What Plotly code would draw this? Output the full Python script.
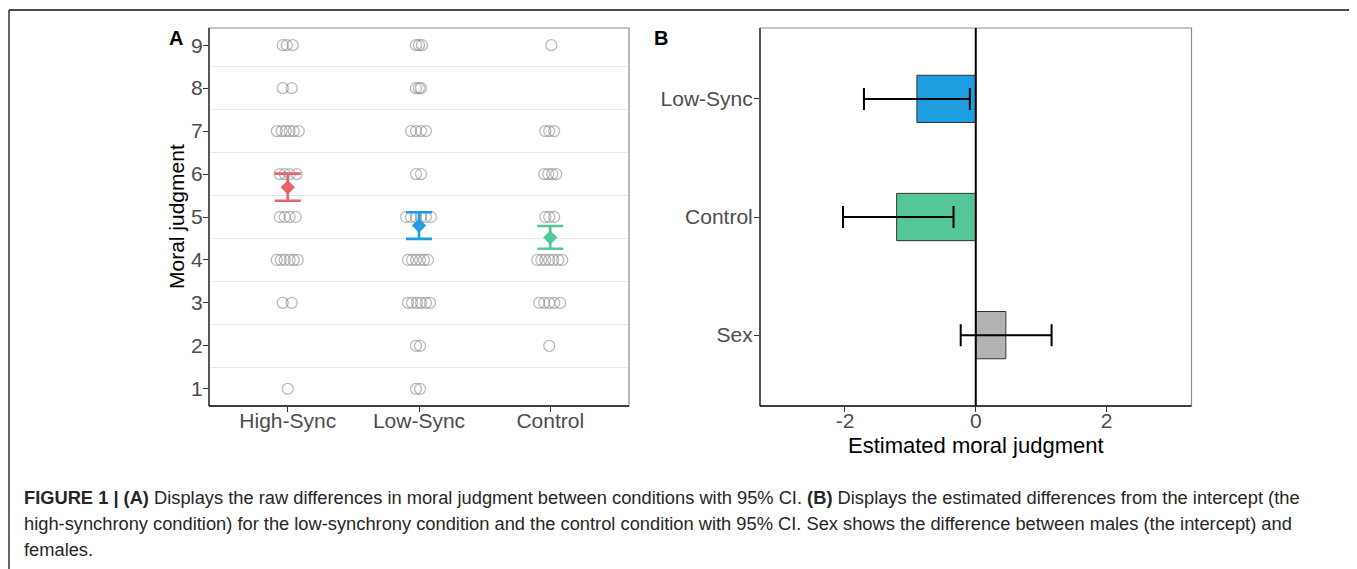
import plotly.graph_objects as go

# page body has an 8px default margin: the figure is sized to fill the rest of the 1357x569 window
PAGE_W, PAGE_H, OFF = 1357, 569, 8
W, H = PAGE_W - OFF, PAGE_H - OFF

# ---------------- DATA ----------------
groups = ["High-Sync", "Low-Sync", "Control"]

# Panel A raw responses (value) with horizontal jitter offsets (category units)
high_sync_values = [9, 9, 9, 8, 8, 7, 7, 7, 7, 7, 7, 6, 6, 6, 6, 5, 5, 5, 5, 4, 4, 4, 4, 4, 4, 3, 3, 1]
high_sync_jitter = [-0.038, -0.008, 0.038, -0.038, 0.030,
                    -0.084, -0.046, -0.015, 0.015, 0.046, 0.084,
                    -0.061, -0.023, 0.015, 0.068,
                    -0.061, -0.023, 0.015, 0.061,
                    -0.084, -0.053, -0.023, 0.015, 0.046, 0.076,
                    -0.038, 0.030, 0.0]

low_sync_values = [9, 9, 9, 8, 8, 8, 7, 7, 7, 7, 6, 6, 5, 5, 5, 5, 5, 5, 4, 4, 4, 4, 4, 4, 3, 3, 3, 3, 3, 3, 2, 2, 1, 1]
low_sync_jitter = [-0.023, 0.0, 0.023, -0.023, 0.0, 0.015,
                   -0.061, -0.023, 0.015, 0.053,
                   -0.023, 0.015,
                   -0.099, -0.061, -0.023, 0.015, 0.053, 0.091,
                   -0.084, -0.053, -0.023, 0.008, 0.038, 0.068,
                   -0.084, -0.053, -0.015, 0.015, 0.053, 0.084,
                   -0.023, 0.008, -0.023, 0.008]

control_values = [9, 7, 7, 7, 6, 6, 6, 6, 5, 5, 5, 4, 4, 4, 4, 4, 4, 4, 3, 3, 3, 3, 3, 2]
control_jitter = [0.008, -0.038, -0.008, 0.030,
                  -0.046, -0.015, 0.015, 0.046,
                  -0.038, -0.008, 0.030,
                  -0.099, -0.068, -0.038, -0.008, 0.023, 0.061, 0.091,
                  -0.084, -0.046, -0.008, 0.030, 0.076,
                  -0.008]

# Panel A means with 95% CI
group_means = [5.69, 4.80, 4.52]
group_ci_low = [5.38, 4.49, 4.26]
group_ci_high = [6.01, 5.11, 4.79]
group_colors = ["#E7636B", "#1D9EE0", "#55C697"]

y_ticks_a = [1, 2, 3, 4, 5, 6, 7, 8, 9]

# Panel B model estimates
terms = ["Low-Sync", "Control", "Sex"]
estimates = [-0.90, -1.21, 0.46]
est_ci_low = [-1.71, -2.03, -0.23]
est_ci_high = [-0.09, -0.34, 1.16]
term_colors = ["#1D9EE0", "#55C697", "#B3B3B3"]
x_ticks_b = [-2, 0, 2]
x_ticks_b_text = ["-2", "0", "2"]

caption_lines = [
    "<b>FIGURE 1 | (A)</b> Displays the raw differences in moral judgment between conditions with 95% CI. "
    "<b>(B)</b> Displays the estimated differences from the intercept (the",
    "high-synchrony condition) for the low-synchrony condition and the control condition with 95% CI. "
    "Sex shows the difference between males (the intercept) and",
    "females.",
]

# ---------------- FIGURE ----------------
FONT = "Liberation Sans, Arial, sans-serif"
TICK_COL = "#4D4D4D"


def px(xp):
    return (xp - OFF) / W


def py(yp):
    return 1 - (yp - OFF) / H


fig = go.Figure()

raw = [(high_sync_values, high_sync_jitter), (low_sync_values, low_sync_jitter),
       (control_values, control_jitter)]
for gi, (vals, jit) in enumerate(raw):
    fig.add_trace(go.Scatter(
        x=[gi + 1 + j for j in jit], y=vals, mode="markers",
        marker=dict(symbol="circle-open", size=11, color="rgba(120,120,120,0.5)",
                    line=dict(width=1.3, color="rgba(120,120,120,0.5)")),
        xaxis="x", yaxis="y", showlegend=False, hoverinfo="skip"))

for gi in range(len(groups)):
    fig.add_trace(go.Scatter(
        x=[gi + 1], y=[group_means[gi]], mode="markers",
        marker=dict(symbol="diamond", size=11, color=group_colors[gi]),
        error_y=dict(type="data", symmetric=False,
                     array=[group_ci_high[gi] - group_means[gi]],
                     arrayminus=[group_means[gi] - group_ci_low[gi]],
                     color=group_colors[gi], thickness=2.6, width=13),
        xaxis="x", yaxis="y", showlegend=False))

ypos_b = [3, 2, 1]
fig.add_trace(go.Bar(
    x=estimates, y=ypos_b, orientation="h", width=0.4,
    marker=dict(color=term_colors, line=dict(color="#333333", width=1)),
    error_x=dict(type="data", symmetric=False,
                 array=[h - e for h, e in zip(est_ci_high, estimates)],
                 arrayminus=[e - l for e, l in zip(estimates, est_ci_low)],
                 color="black", thickness=2, width=11),
    xaxis="x2", yaxis="y2", showlegend=False))

ax_a_x = [px(209), px(629)]
ax_b_x = [px(760), px(1191.5)]
ax_y = [py(406), py(28)]

common_tick = dict(ticks="outside", ticklen=5, tickwidth=1, tickcolor="#333333",
                   tickfont=dict(family=FONT, size=21, color=TICK_COL),
                   showgrid=False, zeroline=False, showline=False)

fig.update_layout(
    width=W, height=H, autosize=False,
    margin=dict(l=0, r=0, t=0, b=0),
    paper_bgcolor="white", plot_bgcolor="white",
    font=dict(family=FONT),
    xaxis=dict(domain=ax_a_x, range=[0.4, 3.6], tickvals=[1, 2, 3], ticktext=groups,
               anchor="y", ticklabelstandoff=-9, **common_tick),
    yaxis=dict(domain=ax_y, range=[0.6, 9.4], tickvals=y_ticks_a, anchor="x",
               minor=dict(tick0=0.5, dtick=1, showgrid=True, gridcolor="#E8E8E8",
                          gridwidth=1, ticks=""),
               ticklabelstandoff=-4, **common_tick),
    xaxis2=dict(domain=ax_b_x, range=[-3.3, 3.3], tickvals=x_ticks_b, ticktext=x_ticks_b_text,
                anchor="y2", ticklabelstandoff=-9, **common_tick),
    yaxis2=dict(domain=ax_y, range=[0.4, 3.6], tickvals=ypos_b, ticktext=terms,
                anchor="x2", ticklabelstandoff=-3, **common_tick),
)

shapes = []
# outer figure frame
shapes.append(dict(type="line", xref="paper", yref="paper", x0=px(9), x1=px(1355), y0=py(10), y1=py(10),
                   line=dict(color="#111111", width=1.5)))
shapes.append(dict(type="line", xref="paper", yref="paper", x0=px(9), x1=px(9), y0=py(10), y1=0,
                   line=dict(color="#333333", width=1.5)))
shapes.append(dict(type="line", xref="paper", yref="paper", x0=px(1355), x1=px(1355), y0=py(10), y1=0,
                   line=dict(color="#8A8A8A", width=1.2)))

for dom in (ax_a_x, ax_b_x):
    shapes.append(dict(type="rect", xref="paper", yref="paper", x0=dom[0], x1=dom[1], y0=ax_y[0], y1=ax_y[1],
                       line=dict(color="#8C8C8C", width=1.2), layer="above"))
    shapes.append(dict(type="line", xref="paper", yref="paper", x0=dom[0], x1=dom[0], y0=ax_y[0], y1=ax_y[1],
                       line=dict(color="#222222", width=1.3), layer="above"))
    shapes.append(dict(type="line", xref="paper", yref="paper", x0=dom[0], x1=dom[1], y0=ax_y[0], y1=ax_y[0],
                       line=dict(color="#111111", width=1.3), layer="above"))

# vertical zero reference line in panel B
shapes.append(dict(type="line", xref="x2", yref="paper", x0=0, x1=0, y0=ax_y[0], y1=ax_y[1],
                   line=dict(color="black", width=2), layer="above"))
fig.update_layout(shapes=shapes)

ann = []
ann.append(dict(text="<b>A</b>", x=px(176), y=py(38), xref="paper", yref="paper", showarrow=False,
                xanchor="center", yanchor="middle",
                font=dict(family=FONT, size=20, color="black")))
ann.append(dict(text="<b>B</b>", x=px(661), y=py(38), xref="paper", yref="paper", showarrow=False,
                xanchor="center", yanchor="middle",
                font=dict(family=FONT, size=20, color="black")))
ann.append(dict(text="Moral judgment", x=px(176), y=py(217), xref="paper", yref="paper", showarrow=False,
                xanchor="center", yanchor="middle",
                textangle=-90, font=dict(family=FONT, size=21, color="black")))
ann.append(dict(text="Estimated moral judgment", x=px(976), y=py(445), xref="paper", yref="paper",
                xanchor="center", yanchor="middle",
                showarrow=False, font=dict(family=FONT, size=22, color="black")))
cap_y = [497, 523, 549]
for line, yy in zip(caption_lines, cap_y):
    ann.append(dict(text=line, x=px(22), y=py(yy), xref="paper", yref="paper", showarrow=False,
                    xanchor="left", yanchor="middle", align="left",
                    font=dict(family=FONT, size=18.3, color="#262626")))
fig.update_layout(annotations=ann)

fig.write_html("out.html")
